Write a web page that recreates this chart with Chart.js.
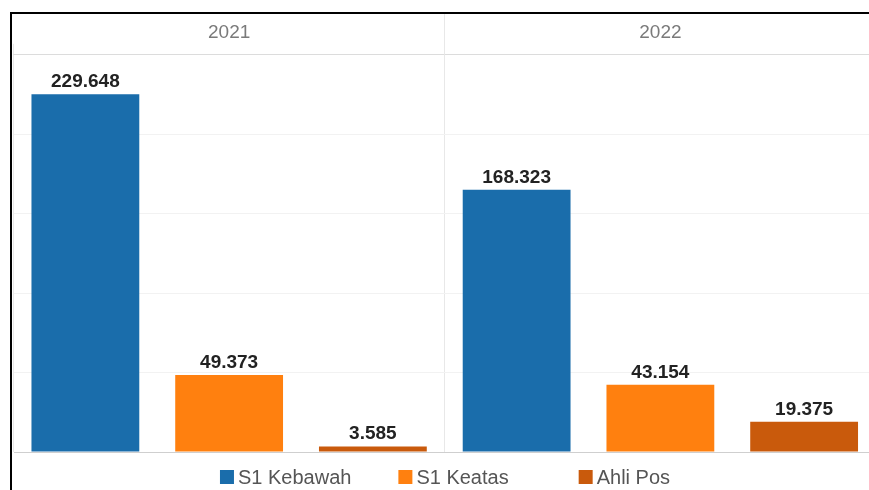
<!DOCTYPE html>
<html>
<head>
<meta charset="utf-8">
<script src="https://cdn.jsdelivr.net/npm/chart.js@4/dist/chart.umd.min.js"></script>
<style>
  html, body { margin: 0; padding: 0; background: #fff; overflow: hidden; width: 869px; height: 490px; }
  #frame {
    position: absolute; left: 10px; top: 12px;
    border-top: 2px solid #000; border-left: 2px solid #000;
    width: 866px; height: 476px;
  }
  #chart { display: block; }
</style>
</head>
<body>
<div id="frame"><canvas id="chart" width="866" height="476"></canvas></div>
<script>
// Tahun (panel) dan jumlah per kategori pendidikan
const years = ['2021', '2022'];
const seriesNames = ['S1 Kebawah', 'S1 Keatas', 'Ahli Pos'];
const s1Kebawah = [229648, 168323];
const s1Keatas = [49373, 43154];
const ahliPos = [3585, 19375];
const seriesColors = ['#1a6dab', '#ff800f', '#c95a0c'];

const FONT = '"Liberation Sans", Arial, sans-serif';

// Angka dengan pemisah ribuan titik (format Indonesia)
const fmt = n => String(n).replace(/\B(?=(\d{3})+(?!\d))/g, '.');

// Tulis nilai di atas setiap batang
const valueLabels = {
  id: 'valueLabels',
  afterDatasetsDraw(chart) {
    const ctx = chart.ctx;
    ctx.save();
    ctx.font = 'bold 19px ' + FONT;
    ctx.fillStyle = '#222';
    ctx.textAlign = 'center';
    ctx.textBaseline = 'bottom';
    chart.data.datasets.forEach((ds, i) => {
      chart.getDatasetMeta(i).data.forEach((bar, j) => {
        ctx.fillText(fmt(ds.data[j]), bar.x, bar.y - 3);
      });
    });
    ctx.restore();
  }
};

// Garis pemisah panel tahun diteruskan sampai ke atas judul panel
const panelDividers = {
  id: 'panelDividers',
  beforeDatasetsDraw(chart) {
    const xs = chart.scales.x;
    const ctx = chart.ctx;
    const step = (xs.right - xs.left) / xs.ticks.length;
    ctx.save();
    ctx.strokeStyle = '#e8e8e8';
    ctx.lineWidth = 1;
    for (let i = 1; i < xs.ticks.length; i++) {
      const x = Math.round(xs.left + i * step - 0.5) + 0.5;
      ctx.beginPath();
      ctx.moveTo(x, 0);
      ctx.lineTo(x, chart.chartArea.top);
      ctx.stroke();
    }
    ctx.restore();
  }
};

// Legenda di bawah grafik: kotak warna + nama seri, dipusatkan
const bottomLegend = {
  id: 'bottomLegend',
  afterDraw(chart) {
    const ctx = chart.ctx;
    const box = 14, textGap = 4, itemGaps = [47, 70];
    ctx.save();
    ctx.font = '20px ' + FONT;
    ctx.textBaseline = 'middle';
    const items = chart.data.datasets.map(ds => ({
      label: ds.label, color: ds.backgroundColor,
      w: box + textGap + ctx.measureText(ds.label).width
    }));
    const total = items.reduce((s, it) => s + it.w, 0) +
      itemGaps.slice(0, items.length - 1).reduce((s, g) => s + g, 0);
    let x = (chart.width - total) / 2;
    const y = chart.chartArea.bottom + 25;
    items.forEach((it, i) => {
      ctx.fillStyle = it.color;
      ctx.fillRect(x, y - box / 2, box, box);
      ctx.fillStyle = '#555';
      ctx.fillText(it.label, x + box + textGap, y + 1);
      x += it.w + (itemGaps[i] || 0);
    });
    ctx.restore();
  }
};

new Chart(document.getElementById('chart'), {
  type: 'bar',
  data: {
    labels: years,
    datasets: [
      { label: seriesNames[0], data: s1Kebawah, backgroundColor: seriesColors[0] },
      { label: seriesNames[1], data: s1Keatas, backgroundColor: seriesColors[1] },
      { label: seriesNames[2], data: ahliPos, backgroundColor: seriesColors[2] }
    ]
  },
  options: {
    responsive: false,
    animation: false,
    events: [],
    barPercentage: 0.75,
    categoryPercentage: 1.0,
    layout: { padding: { left: 1.5, right: 2, top: 7, bottom: 38 } },
    scales: {
      x: {
        position: 'top',
        grid: {
          offset: true,
          color: '#e8e8e8',
          tickLength: 11,
          tickColor: '#e8e8e8'
        },
        border: { display: true, color: '#dcdcdc' },
        ticks: {
          padding: 0,
          color: '#7a7a7a',
          font: { family: FONT, size: 19 }
        }
      },
      y: {
        min: 0,
        max: 255000,
        ticks: { display: false, stepSize: 50000 },
        grid: {
          drawTicks: false,
          color: c => (c.tick && c.tick.value === 0) ? '#cfcfcf' : '#f2f2f2'
        },
        border: { display: false }
      }
    },
    plugins: {
      legend: { display: false },
      tooltip: { enabled: false }
    }
  },
  plugins: [valueLabels, panelDividers, bottomLegend]
});
</script>
</body>
</html>
